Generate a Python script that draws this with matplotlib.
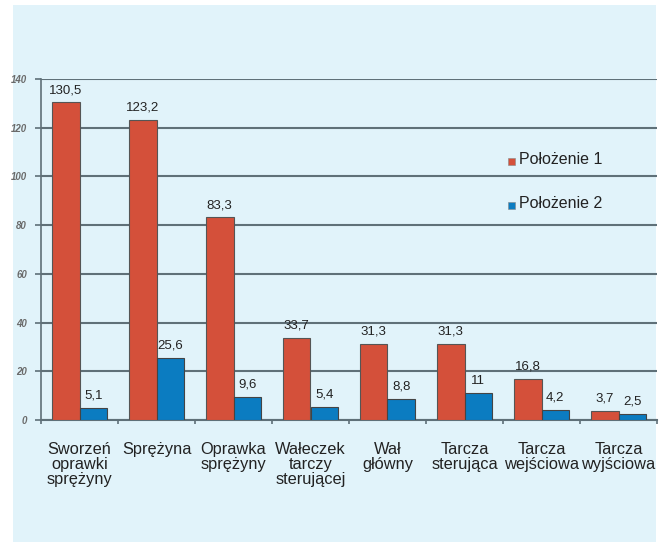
import numpy as np
import matplotlib
matplotlib.use("Agg")
from matplotlib import pyplot as plt
from matplotlib.patches import Rectangle


CATEGORIES = ["Sworzeń\noprawki\nsprężyny", "Sprężyna", "Oprawka\nsprężyny",
              "Wałeczek\ntarczy\nsterującej", "Wał\ngłówny", "Tarcza\nsterująca",
              "Tarcza\nwejściowa", "Tarcza\nwyjściowa"]
POS_1 = [130.5, 123.2, 83.3, 33.7, 31.3, 31.3, 16.8, 3.7]
POS_2 = [5.1, 25.6, 9.6, 5.4, 8.8, 11, 4.2, 2.5]
SERIES_NAMES = ["Położenie 1", "Położenie 2"]
Y_TICKS = [0, 20, 40, 60, 80, 100, 120, 140]

RED = "#d4503a"
BLUE = "#0b7cc1"
PANEL = "#e1f3fa"
GRID = "#5f7078"

plt.rcParams["font.family"] = ["Liberation Sans", "DejaVu Sans"]


def fmt(v):
    return ("%g" % v).replace(".", ",")


fig = plt.figure(figsize=(6.64, 5.42), dpi=100, facecolor="white")
fig.patches.append(Rectangle((13 / 664, 0), (656 - 13) / 664, 1 - 5 / 542,
                             transform=fig.transFigure, facecolor=PANEL,
                             edgecolor="none", zorder=-10))

ax = fig.add_axes([41 / 664, 1 - 420 / 542, (657 - 41) / 664, (420 - 79) / 542])
ax.set_facecolor("none")
ax.set_zorder(2)

x = np.arange(len(CATEGORIES))
w = 0.36
b1 = ax.bar(x - w / 2, POS_1, w, color=RED, edgecolor="#555555", linewidth=0.8,
            label=SERIES_NAMES[0], zorder=3)
b2 = ax.bar(x + w / 2, POS_2, w, color=BLUE, edgecolor="#444444", linewidth=0.8,
            label=SERIES_NAMES[1], zorder=3)

for bars, vals in ((b1, POS_1), (b2, POS_2)):
    for r, v in zip(bars, vals):
        ax.text(r.get_x() + r.get_width() / 2, v + 2.5, fmt(v), ha="center",
                va="bottom", fontsize=9.5, color="#222222", zorder=4)

ax.set_xlim(-0.5, len(CATEGORIES) - 0.5)
ax.set_ylim(0, 140)
ax.set_yticks(Y_TICKS)
ax.set_yticklabels([str(t) for t in Y_TICKS], fontsize=7, style="italic",
                   fontweight="bold", color="#6a6a6a")
ax.yaxis.grid(True, color=GRID, linewidth=1.5, zorder=1)

ax.set_xticks(np.arange(len(CATEGORIES) + 1) - 0.5, minor=False)
ax.set_xticklabels([])
ax.tick_params(axis="x", length=3, color=GRID, width=1.2)
ax.set_xticks(x, minor=True)
ax.set_xticklabels(CATEGORIES, minor=True, fontsize=11.8, color="#222222",
                   linespacing=1.0)
ax.tick_params(axis="x", which="minor", length=0, pad=16)
ax.tick_params(axis="y", length=4, color=GRID, width=1.2, pad=6)

for side in ("top", "right"):
    ax.spines[side].set_visible(False)
ax.spines["left"].set_color(GRID)
ax.spines["left"].set_linewidth(1.2)
ax.spines["bottom"].set_color(GRID)
ax.spines["bottom"].set_linewidth(1.5)

fig.text(519 / 664, 1 - 160 / 542, SERIES_NAMES[0], fontsize=11.5, va="center",
         color="#222222", zorder=6)
fig.text(519 / 664, 1 - 204 / 542, SERIES_NAMES[1], fontsize=11.5, va="center",
         color="#222222", zorder=6)
fig.patches.append(Rectangle((508 / 664, 1 - 165 / 542), 7 / 664, 7 / 542,
                             transform=fig.transFigure, facecolor=RED,
                             edgecolor="#888888", linewidth=0.4, zorder=5))
fig.patches.append(Rectangle((508 / 664, 1 - 209 / 542), 7 / 664, 7 / 542,
                             transform=fig.transFigure, facecolor=BLUE,
                             edgecolor="#888888", linewidth=0.4, zorder=5))

fig.savefig("out.png", dpi=100, facecolor="white")
